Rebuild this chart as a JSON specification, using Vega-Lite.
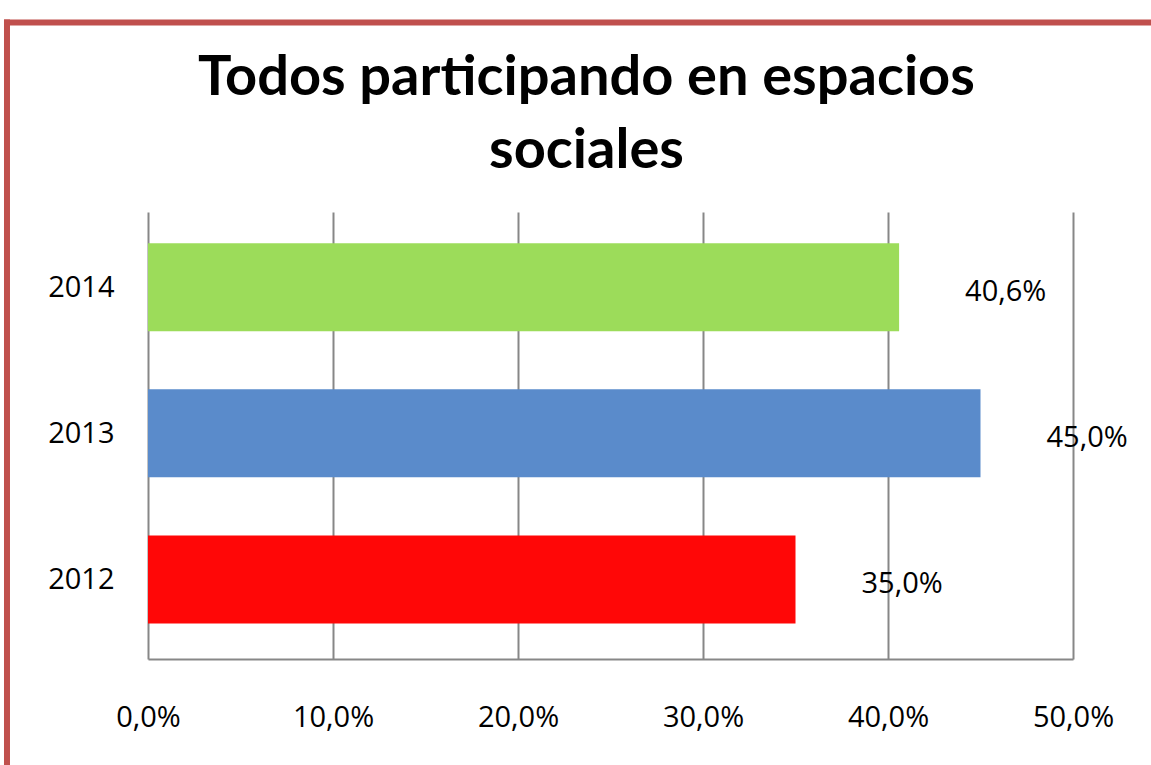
{
  "$schema": "https://vega.github.io/schema/vega-lite/v6.json",
  "autosize": {"type": "none"},
  "padding": {"left": 148, "top": 212, "right": 78, "bottom": 106},
  "width": 925,
  "height": 447,
  "background": "white",
  "title": {
    "text": ["Todos participando en espacios", "sociales"],
    "font": "Lato",
    "fontWeight": "bold",
    "fontSize": 56,
    "lineHeight": 73,
    "color": "#000000",
    "anchor": "middle",
    "frame": "group",
    "dx": -24,
    "offset": -163
  },
  "data": {
    "values": [
      {"year": 2014, "share": 0.406},
      {"year": 2013, "share": 0.45},
      {"year": 2012, "share": 0.35}
    ]
  },
  "layer": [
    {
      "mark": {"type": "bar", "size": 88, "orient": "horizontal"},
      "encoding": {
        "y": {
          "field": "year",
          "type": "quantitative",
          "scale": {"domain": [2011.49, 2014.48], "nice": false, "zero": false},
          "axis": {
            "title": null,
            "values": [2012, 2013, 2014],
            "format": "d",
            "grid": false,
            "domain": false,
            "ticks": false,
            "labelPadding": 34,
            "labelFont": "Open Sans",
            "labelFontSize": 29,
            "labelColor": "#000000"
          }
        },
        "x": {
          "field": "share",
          "type": "quantitative",
          "scale": {"domain": [0, 0.5], "nice": false, "zero": true},
          "axis": {
            "title": null,
            "values": [0, 0.1, 0.2, 0.3, 0.4, 0.5],
            "format": ".1%",
            "grid": true,
            "gridColor": "#878787",
            "gridWidth": 2,
            "gridOpacity": 1,
            "domainColor": "#878787",
            "domainWidth": 2,
            "ticks": false,
            "labelPadding": 44,
            "labelFont": "Open Sans",
            "labelFontSize": 29,
            "labelColor": "#000000",
            "labelFlush": false
          }
        },
        "x2": {"datum": 0},
        "color": {
          "field": "year",
          "type": "nominal",
          "scale": {"domain": [2012, 2013, 2014], "range": ["#FF0707", "#5A8BCB", "#9CDC5A"]},
          "legend": null
        }
      }
    },
    {
      "mark": {"type": "text", "align": "left", "baseline": "middle", "dx": 66, "dy": 5, "font": "Open Sans", "fontSize": 29, "color": "#000000"},
      "encoding": {
        "y": {"field": "year", "type": "quantitative"},
        "x": {"field": "share", "type": "quantitative"},
        "text": {"field": "share", "type": "quantitative", "format": ".1%"}
      }
    },
    {
      "data": {"values": [{}]},
      "mark": {"type": "rule", "color": "#C0504D", "strokeWidth": 6},
      "encoding": {
        "x": {"datum": -0.0778, "type": "quantitative"},
        "x2": {"datum": 0.62},
        "y": {"datum": 2015.811, "type": "quantitative"}
      }
    },
    {
      "data": {"values": [{}]},
      "mark": {"type": "rule", "color": "#C0504D", "strokeWidth": 6},
      "encoding": {
        "x": {"datum": -0.07622, "type": "quantitative"},
        "y": {"datum": 2015.831, "type": "quantitative"},
        "y2": {"datum": 2010.5}
      }
    }
  ],
  "config": {
    "view": {"stroke": null},
    "locale": {
      "number": {"decimal": ",", "thousands": ".", "grouping": [3], "currency": ["", " €"]}
    }
  }
}
